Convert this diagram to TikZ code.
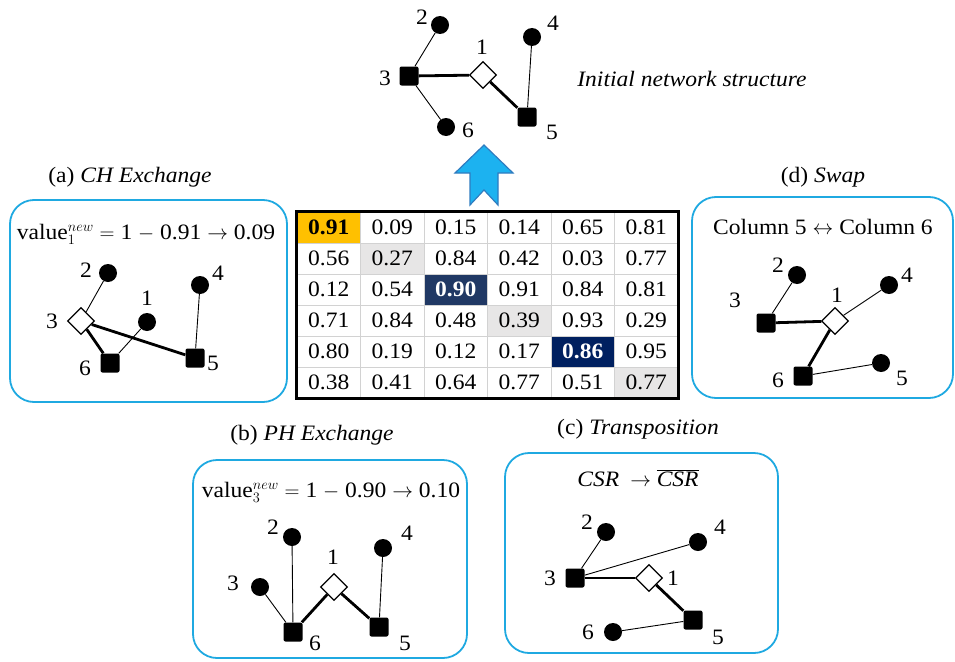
\documentclass[tikz,border=0pt]{standalone}
\usepackage{fontspec}
\setmainfont{Liberation Serif}[FakeStretch=1.07]
\usetikzlibrary{shapes.geometric}

\definecolor{panelblue}{HTML}{1FA9E1}
\definecolor{arrowfill}{HTML}{1CB2F0}
\definecolor{arrowline}{HTML}{2F7CC0}
\definecolor{hiorange}{HTML}{FFC000}
\definecolor{hiblue}{HTML}{203864}
\definecolor{hinavy}{HTML}{002060}
\definecolor{higray}{HTML}{E7E6E6}
\definecolor{gridgray}{HTML}{D2D2D2}

\tikzset{
  every node/.style={font=\fontsize{22}{26}\selectfont},
  circnode/.style={circle, fill=black, minimum size=18pt, inner sep=0pt},
  sqnode/.style={rectangle, fill=black, minimum size=19pt, inner sep=0pt, rounded corners=2pt},
  dianode/.style={diamond, draw=black, fill=white, line width=1.3pt, minimum size=27pt, inner sep=0pt},
  lab/.style={inner sep=0pt},
  thinedge/.style={line width=0.9pt},
  thickedge/.style={line width=2.8pt},
  panel/.style={draw=panelblue, line width=1.8pt, rounded corners=24pt},
  cell/.style={draw=gridgray, line width=0.8pt, minimum width=63.5pt, minimum height=31pt, inner sep=0pt},
  s11/.style={fill=hiorange, font=\fontsize{22}{26}\selectfont\bfseries},
  s22/.style={fill=higray},
  s33/.style={fill=hiblue, text=white, font=\fontsize{22}{26}\selectfont\bfseries},
  s44/.style={fill=higray},
  s55/.style={fill=hinavy, text=white, font=\fontsize{22}{26}\selectfont\bfseries},
  s66/.style={fill=higray},
}

\begin{document}
\begin{tikzpicture}[x=1pt, y=-1pt]
\useasboundingbox (0,0) rectangle (955,661);

% ---------- initial network ----------
\node[circnode] (t2) at (440,25) {};
\node[circnode] (t4) at (532,37) {};
\node[dianode]  (t1) at (483,75) {};
\node[sqnode]   (t3) at (409,76) {};
\node[circnode] (t6) at (446,127) {};
\node[sqnode]   (t5) at (527,117) {};
\draw[thinedge] (t3) -- (t2);
\draw[thinedge] (t3) -- (t6);
\draw[thickedge] (t3) -- (t1);
\draw[thickedge] (t1) -- (t5);
\draw[thinedge] (t4) -- (t5);
\node[lab] (tl2) at (422,17) {2};
\node[lab] (tl4) at (553,23) {4};
\node[lab] (tl1) at (482,47) {1};
\node[lab] (tl3) at (385,78) {3};
\node[lab] (tl6) at (468,130) {6};
\node[lab] (tl5) at (552,132) {5};
\node[lab] (ttitle) at (692,79) {\textit{Initial network structure}};

% ---------- up arrow ----------
\draw[fill=arrowfill, draw=arrowline, line width=1.2pt, line join=miter]
  (484,145) -- (513,173) -- (498,173) -- (498,205) -- (484,190)
  -- (470,205) -- (470,173) -- (455,173) -- cycle;

% ---------- value matrix ----------
\foreach \row [count=\r] in {
  {0.91,0.09,0.15,0.14,0.65,0.81},
  {0.56,0.27,0.84,0.42,0.03,0.77},
  {0.12,0.54,0.90,0.91,0.84,0.81},
  {0.71,0.84,0.48,0.39,0.93,0.29},
  {0.80,0.19,0.12,0.17,0.86,0.95},
  {0.38,0.41,0.64,0.77,0.51,0.77}} {
  \foreach \v [count=\c] in \row {
    \node[cell, s\r\c/.try] (m-\r-\c) at ({297+63.5*(\c-0.5)}, {212+31*(\r-0.5)}) {\v};
  }
}
\draw[line width=3.6pt] (m-1-1.north west) rectangle (m-6-6.south east);

% ---------- (a) CH Exchange ----------
\node[lab] (atitle) at (130,177) {(a) \textit{CH Exchange}};
\draw[panel] (10,200) rectangle (287,402);
\node[lab] (aform) at (146,234) {value$_1^{new}$ $=$ 1 $-$ 0.91 $\rightarrow$ 0.09};
\node[circnode] (a2) at (108,273) {};
\node[circnode] (a4) at (200,285) {};
\node[circnode] (a1) at (147,322) {};
\node[dianode]  (a3) at (81,321) {};
\node[sqnode]   (a6) at (110,363) {};
\node[sqnode]   (a5) at (195,358) {};
\draw[thinedge] (a2) -- (a3);
\draw[thickedge] (a3) -- (a5);
\draw[thickedge] (a3) -- (a6);
\draw[thinedge] (a6) -- (a1);
\draw[thinedge] (a4) -- (a5);
\node[lab] (al2) at (86,270) {2};
\node[lab] (al4) at (218,273) {4};
\node[lab] (al1) at (147,298) {1};
\node[lab] (al3) at (52,321) {3};
\node[lab] (al6) at (85,368) {6};
\node[lab] (al5) at (213,363) {5};

% ---------- (d) Swap ----------
\node[lab] (dtitle) at (823,177) {(d) \textit{Swap}};
\draw[panel] (692,197) rectangle (953,398);
\node[lab] (dform) at (823,227) {Column 5 $\leftrightarrow$ Column 6};
\node[circnode] (d2) at (797,275) {};
\node[circnode] (d4) at (889,285) {};
\node[sqnode]   (d3) at (766,323) {};
\node[dianode]  (d1) at (835,321) {};
\node[sqnode]   (d6) at (803,376) {};
\node[circnode] (d5) at (881,363) {};
\draw[thinedge] (d2) -- (d3);
\draw[thickedge] (d3) -- (d1);
\draw[thinedge] (d1) -- (d4);
\draw[thickedge] (d1) -- (d6);
\draw[thinedge] (d6) -- (d5);
\node[lab] (dl2) at (778,265) {2};
\node[lab] (dl4) at (907,275) {4};
\node[lab] (dl3) at (735,300) {3};
\node[lab] (dl1) at (837,295) {1};
\node[lab] (dl6) at (778,380) {6};
\node[lab] (dl5) at (902,378) {5};

% ---------- (b) PH Exchange ----------
\node[lab] (btitle) at (312,435) {(b) \textit{PH Exchange}};
\draw[panel] (193,460) rectangle (467,658);
\node[lab] (bform) at (331,492) {value$_3^{new}$ $=$ 1 $-$ 0.90 $\rightarrow$ 0.10};
\node[circnode] (b2) at (292,537) {};
\node[circnode] (b4) at (383,548) {};
\node[dianode]  (b1) at (334,587) {};
\node[circnode] (b3) at (260,587) {};
\node[sqnode]   (b6) at (293,632) {};
\node[sqnode]   (b5) at (379,627) {};
\draw[thinedge] (b3) -- (b6);
\draw[thinedge] (b2) -- (b6);
\draw[thickedge] (b6) -- (b1);
\draw[thickedge] (b1) -- (b5);
\draw[thinedge] (b4) -- (b5);
\node[lab] (bl2) at (273,527) {2};
\node[lab] (bl4) at (407,533) {4};
\node[lab] (bl1) at (333,557) {1};
\node[lab] (bl3) at (233,583) {3};
\node[lab] (bl6) at (315,643) {6};
\node[lab] (bl5) at (405,643) {5};

% ---------- (c) Transposition ----------
\node[lab] (ctitle) at (638,429) {(c) \textit{Transposition}};
\draw[panel] (505,453) rectangle (778,653);
\node[lab] (cform) at (638,478) {\textit{CSR}\enspace$\rightarrow\overline{\mbox{\textit{CSR}}}$};
\node[circnode] (c2) at (606,532) {};
\node[circnode] (c4) at (698,542) {};
\node[sqnode]   (c3) at (575,578) {};
\node[dianode]  (c1) at (649,578) {};
\node[sqnode]   (c5) at (693,620) {};
\node[circnode] (c6) at (613,632) {};
\draw[thinedge] (c2) -- (c3);
\draw[thinedge] (c3) -- (c4);
\draw[thickedge] (c3) -- (c1);
\draw[thickedge] (c1) -- (c5);
\draw[thinedge] (c6) -- (c5);
\node[lab] (cl2) at (587,522) {2};
\node[lab] (cl4) at (720,527) {4};
\node[lab] (cl3) at (550,578) {3};
\node[lab] (cl1) at (673,578) {1};
\node[lab] (cl5) at (718,637) {5};
\node[lab] (cl6) at (588,632) {6};
\end{tikzpicture}
\end{document}
